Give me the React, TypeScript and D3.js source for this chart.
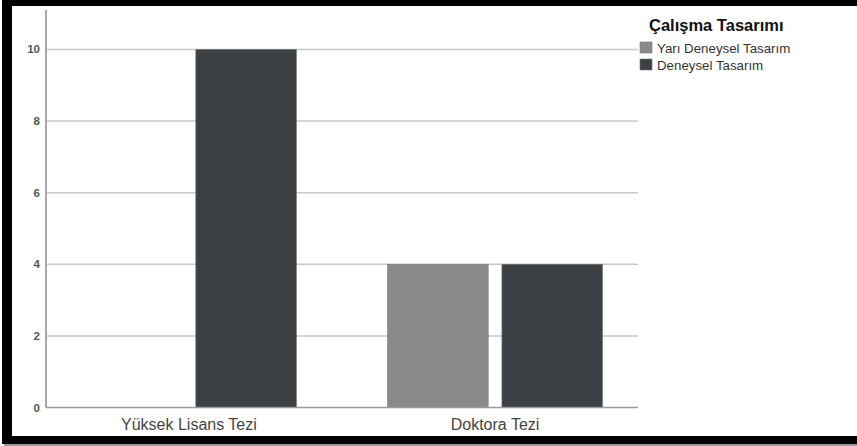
import React from "react";
import * as d3 from "d3";

const categories = ["Yüksek Lisans Tezi", "Doktora Tezi"];
const seriesNames = ["Yarı Deneysel Tasarım", "Deneysel Tasarım"];
const yariDeneysel = [0, 4];
const deneysel = [10, 4];
const yTicks = [0, 2, 4, 6, 8, 10];
const legendTitle = "Çalışma Tasarımı";

const W = 857;
const H = 446;
const colors = ["#898989", "#3c4043"];

export default function App() {
  const left = 46;
  const right = 638;
  const top = 10;
  const bottom = 407.5;

  const y = d3.scaleLinear().domain([0, 11.1]).range([bottom, top]);
  const x = d3.scalePoint<string>().domain(categories).range([left, right]).padding(0.467);
  const inner = d3.scaleBand<string>().domain(seriesNames).range([-107.5, 107.5]).paddingInner(0.12);

  const values = [yariDeneysel, deneysel];
  const font = "'Liberation Sans', Arial, sans-serif";

  return (
    <svg width={W} height={H} style={{ position: "absolute", left: 0, top: 0 }}>
      <rect x={0} y={0} width={W} height={H} fill="#ffffff" />
      {/* shadow */}
      <rect x={4} y={443} width={W} height={3} fill="#9a9a9a" />
      {/* frame */}
      <rect x={2} y={0} width={W} height={6} fill="#000" />
      <rect x={2} y={0} width={10} height={444} fill="#000" />
      <rect x={2} y={436} width={W} height={8} fill="#000" />

      {/* grid lines */}
      {yTicks.filter((t) => t > 0).map((t) => (
        <line key={t} x1={left} x2={right} y1={y(t)} y2={y(t)} stroke="#c8c8c8" strokeWidth={1.5} />
      ))}

      {/* bars */}
      {categories.map((c, ci) =>
        seriesNames.map((s, si) => {
          const v = values[si][ci];
          if (v <= 0) return null;
          return (
            <rect
              key={c + s}
              x={(x(c) as number) + (inner(s) as number)}
              y={y(v)}
              width={inner.bandwidth()}
              height={y(0) - y(v)}
              fill={colors[si]}
              stroke="#777"
              strokeWidth={0.6}
            />
          );
        })
      )}

      {/* axes */}
      <line x1={left} x2={left} y1={top} y2={bottom} stroke="#a9a9a9" strokeWidth={2} />
      <line x1={left} x2={right} y1={bottom} y2={bottom} stroke="#9a9a9a" strokeWidth={1.5} />

      {yTicks.map((t) => (
        <text
          key={t}
          x={40}
          y={y(t) + 4}
          textAnchor="end"
          fontFamily={font}
          fontSize={11.5}
          fontWeight="bold"
          fill="#555"
        >
          {t}
        </text>
      ))}

      {categories.map((c) => (
        <text
          key={c}
          x={x(c) as number}
          y={429.5}
          textAnchor="middle"
          fontFamily={font}
          fontSize={16}
          fill="#444"
        >
          {c}
        </text>
      ))}

      {/* legend */}
      <text x={649} y={30.5} fontFamily={font} fontSize={16.5} fontWeight="bold" fill="#111">
        {legendTitle}
      </text>
      {seriesNames.map((s, i) => (
        <g key={s} transform={`translate(640, ${42 + i * 17})`}>
          <rect x={0} y={0} width={12} height={11} fill={colors[i]} stroke="#777" strokeWidth={0.6} />
          <text x={17} y={10.5} fontFamily={font} fontSize={13.3} fill="#333">
            {s}
          </text>
        </g>
      ))}
    </svg>
  );
}
